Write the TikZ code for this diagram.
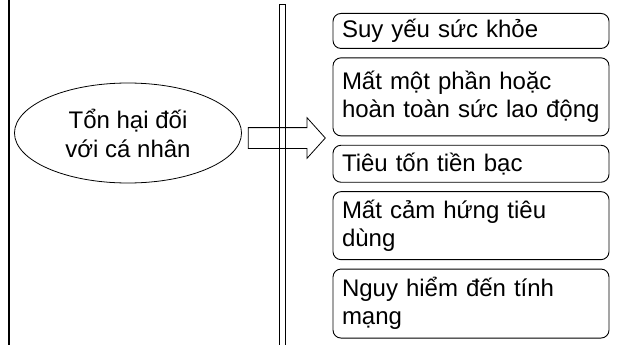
\documentclass[tikz,border=0pt]{standalone}
\usepackage{fontspec}
\setmainfont{Liberation Sans}
\usetikzlibrary{shapes.geometric, shapes.arrows, positioning}
\tikzstyle{effect} = [rectangle, rounded corners=8pt, draw=black, line width=0.9pt,
text width=258pt, align=left, inner xsep=9pt, inner ysep=0pt,
font=\fontsize{24}{28}\selectfont]
\tikzstyle{harm} = [ellipse, draw=black, line width=0.8pt, minimum width=227pt,
minimum height=100pt, inner sep=0pt, align=center,
font=\fontsize{24}{29}\selectfont]
\tikzstyle{bigarrow} = [single arrow, draw=black, line width=0.8pt,
inner xsep=0pt, inner ysep=10pt, minimum height=77pt,
single arrow head extend=10pt, single arrow tip angle=96]

\begin{document}
\begin{tikzpicture}[x=1pt, y=-1pt, node distance=8.5pt]
\useasboundingbox (0,0) rectangle (618,345);

% Frame lines
\draw[line width=2pt] (8.5,0) -- (8.5,345);
\draw[line width=0.8pt] (279,4) rectangle (285,350);

% Nodes
\node[harm] (canhan) at (128,133) {Tổn hại đối\\với cá nhân};
\node[bigarrow, right=6pt of canhan, yshift=-5pt] (muiten) {};

\node[effect, anchor=north, minimum height=35pt] (suyyeu) at (471,13) {Suy yếu sức khỏe};
\node[effect, below=of suyyeu, minimum height=78pt] (laodong) {Mất một phần hoặc\\hoàn toàn sức lao động};
\node[effect, below=of laodong, minimum height=37pt] (tienbac) {Tiêu tốn tiền bạc};
\node[effect, below=of tienbac, minimum height=68pt] (tieudung) {Mất cảm hứng tiêu\\dùng};
\node[effect, below=of tieudung, minimum height=69pt] (tinhmang) {Nguy hiểm đến tính\\mạng};

\end{tikzpicture}
\end{document}
